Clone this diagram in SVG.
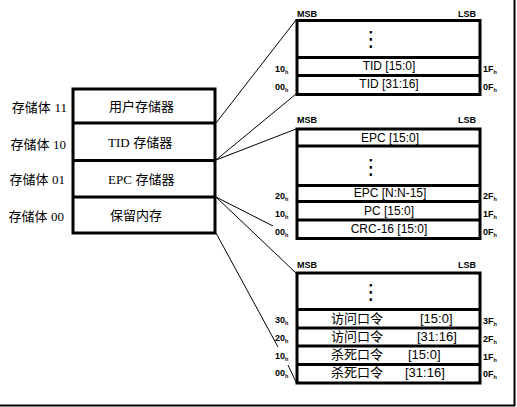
<svg xmlns="http://www.w3.org/2000/svg" width="517" height="407" viewBox="0 0 517 407">
<style>
.box{fill:#fff;stroke:#000;stroke-width:3}
.div{stroke:#000;stroke-width:3}
.conn{stroke:#000;stroke-width:1;fill:none}
.cn{font-family:"Liberation Sans","Noto Sans CJK SC",sans-serif;font-size:13px;fill:#000}
.sf{font-family:"Liberation Serif","Noto Sans CJK SC",serif}
.fld{font-family:"Liberation Sans","Noto Sans CJK SC",sans-serif;font-size:12px;fill:#000;text-anchor:middle}
.ad{font-family:"Liberation Sans",sans-serif;font-size:9px;font-weight:bold;fill:#000}
.sub{font-size:5.5px}
.dots{font-family:"DejaVu Sans",sans-serif;font-size:21px;fill:#000;text-anchor:middle}
</style>
<rect x="0" y="0" width="517" height="407" fill="#fff"/>
<g id="frame">
<line x1="514.5" y1="0" x2="514.5" y2="406" stroke="#000" stroke-width="2"/>
<line x1="0" y1="405.5" x2="515" y2="405.5" stroke="#000" stroke-width="2"/>
</g>
<g id="connectors">
<line class="conn" x1="216" y1="123" x2="296" y2="20"/>
<line class="conn" x1="216" y1="160" x2="296" y2="94"/>
<line class="conn" x1="216" y1="160" x2="296" y2="129"/>
<line class="conn" x1="216" y1="197" x2="273" y2="226"/>
<line class="conn" x1="216" y1="197" x2="296" y2="273"/>
<line class="conn" x1="216" y1="233" x2="278" y2="347"/>
<line class="conn" x1="288" y1="365" x2="296" y2="382"/>
</g>
<g id="main-memory">
<rect class="box" x="73" y="89" width="142" height="144"/>
<line class="div" x1="73" y1="123" x2="215" y2="123"/>
<line class="div" x1="73" y1="160.5" x2="215" y2="160.5"/>
<line class="div" x1="73" y1="197" x2="215" y2="197"/>
<text class="cn" x="109" y="111">用户存储器</text>
<text class="cn" x="108" y="147"><tspan class="sf">TID</tspan> 存储器</text>
<text class="cn" x="108" y="184"><tspan class="sf">EPC</tspan> 存储器</text>
<text class="cn" x="110" y="220">保留内存</text>
</g>
<g id="bank-labels">
<text class="cn" x="67" y="112" text-anchor="end">存储体 <tspan class="sf">11</tspan></text>
<text class="cn" x="66" y="149" text-anchor="end">存储体 <tspan class="sf">10</tspan></text>
<text class="cn" x="65" y="184" text-anchor="end">存储体 <tspan class="sf">01</tspan></text>
<text class="cn" x="64" y="221" text-anchor="end">存储体 <tspan class="sf">00</tspan></text>
</g>
<g id="tid-bank">
<text class="ad" x="297" y="17">MSB</text>
<text class="ad" x="458" y="17">LSB</text>
<rect class="box" x="297" y="20.5" width="183" height="74"/>
<line class="div" x1="297" y1="57.5" x2="480" y2="57.5"/>
<line class="div" x1="297" y1="75.5" x2="480" y2="75.5"/>
<text class="dots" x="371" y="46">⋮</text>
<text class="fld" x="389" y="70">TID [15:0]</text>
<text class="fld" x="389" y="88">TID [31:16]</text>
<text class="ad" x="275" y="72">10<tspan class="sub" dy="1.5">h</tspan></text>
<text class="ad" x="275" y="90">00<tspan class="sub" dy="1.5">h</tspan></text>
<text class="ad" x="483" y="72">1F<tspan class="sub" dy="1.5">h</tspan></text>
<text class="ad" x="483" y="90">0F<tspan class="sub" dy="1.5">h</tspan></text>
</g>
<g id="epc-bank">
<text class="ad" x="297" y="123">MSB</text>
<text class="ad" x="458" y="123">LSB</text>
<rect class="box" x="297" y="129" width="183" height="109.5"/>
<line class="div" x1="297" y1="146" x2="480" y2="146"/>
<line class="div" x1="297" y1="185.5" x2="480" y2="185.5"/>
<line class="div" x1="297" y1="201.5" x2="480" y2="201.5"/>
<line class="div" x1="297" y1="220" x2="480" y2="220"/>
<text class="dots" x="371" y="174">⋮</text>
<text class="fld" x="390" y="142">EPC [15:0]</text>
<text class="fld" x="390" y="197">EPC [N:N-15]</text>
<text class="fld" x="389" y="215">PC [15:0]</text>
<text class="fld" x="389" y="233">CRC-16 [15:0]</text>
<text class="ad" x="275" y="199">20<tspan class="sub" dy="1.5">h</tspan></text>
<text class="ad" x="275" y="217">10<tspan class="sub" dy="1.5">h</tspan></text>
<text class="ad" x="275" y="235">00<tspan class="sub" dy="1.5">h</tspan></text>
<text class="ad" x="483" y="199">2F<tspan class="sub" dy="1.5">h</tspan></text>
<text class="ad" x="483" y="217">1F<tspan class="sub" dy="1.5">h</tspan></text>
<text class="ad" x="483" y="235">0F<tspan class="sub" dy="1.5">h</tspan></text>
</g>
<g id="reserved-bank">
<text class="ad" x="297" y="268">MSB</text>
<text class="ad" x="458" y="268">LSB</text>
<rect class="box" x="297" y="273" width="183" height="110"/>
<line class="div" x1="297" y1="309.5" x2="480" y2="309.5"/>
<line class="div" x1="297" y1="328" x2="480" y2="328"/>
<line class="div" x1="297" y1="346" x2="480" y2="346"/>
<line class="div" x1="297" y1="364.5" x2="480" y2="364.5"/>
<text class="dots" x="371" y="299">⋮</text>
<text class="cn" x="331" y="323">访问口令</text>
<text class="cn" x="420" y="323">[15:0]</text>
<text class="cn" x="331" y="341">访问口令</text>
<text class="cn" x="417" y="341">[31:16]</text>
<text class="cn" x="331" y="359">杀死口令</text>
<text class="cn" x="408" y="359">[15:0]</text>
<text class="cn" x="331" y="377">杀死口令</text>
<text class="cn" x="405" y="377">[31:16]</text>
<text class="ad" x="275" y="323">30<tspan class="sub" dy="1.5">h</tspan></text>
<text class="ad" x="275" y="341">20<tspan class="sub" dy="1.5">h</tspan></text>
<text class="ad" x="275" y="359">10<tspan class="sub" dy="1.5">h</tspan></text>
<text class="ad" x="275" y="376">00<tspan class="sub" dy="1.5">h</tspan></text>
<text class="ad" x="483" y="324">3F<tspan class="sub" dy="1.5">h</tspan></text>
<text class="ad" x="483" y="342">2F<tspan class="sub" dy="1.5">h</tspan></text>
<text class="ad" x="483" y="360">1F<tspan class="sub" dy="1.5">h</tspan></text>
<text class="ad" x="483" y="377">0F<tspan class="sub" dy="1.5">h</tspan></text>
</g>
</svg>
